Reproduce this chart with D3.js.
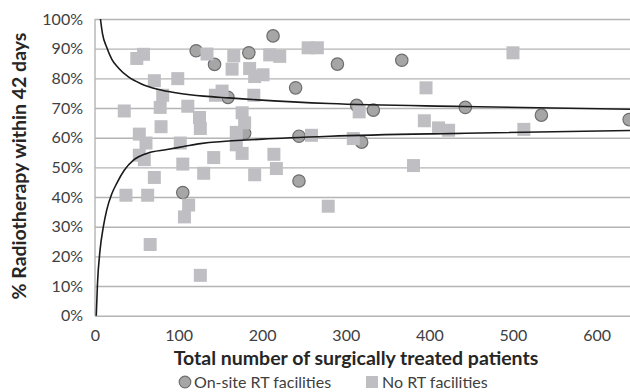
<!DOCTYPE html>
<html>
<head>
<meta charset="utf-8">
<script src="https://cdn.jsdelivr.net/npm/d3@7"></script>
<style>
  body { margin: 0; background: #fff; }
  svg { display: block; font-family: Lato, "Open Sans", sans-serif; }
</style>
</head>
<body>
<svg id="chart" width="630" height="392"></svg>
<script>
// values: [patients, % RT within 42 days]
const onSite = [
  [121, 89.3], [143, 84.7], [105, 41.5], [159, 73.6], [179, 61.5], [184, 88.6],
  [213, 94.3], [240, 76.8], [244, 60.5], [244, 45.4], [290, 84.8], [313, 70.9],
  [319, 58.5], [333, 69.3], [367, 86.1], [443, 70.2], [534, 67.6], [639, 66.1]
];
const noRt = [
  [35, 69.0], [37, 40.6], [50, 86.7], [58, 88.1], [53, 61.2], [61, 58.2],
  [53, 54.1], [59, 52.6], [63, 40.6], [66, 24.0], [71, 79.2], [71, 46.6],
  [81, 74.3], [78, 70.2], [79, 63.7], [99, 79.9], [102, 58.2], [105, 51.1],
  [107, 33.3], [112, 37.3], [111, 70.6], [125, 66.8], [126, 63.1], [126, 13.6],
  [130, 48.0], [134, 88.2], [142, 53.3], [144, 74.3], [152, 75.7], [164, 83.1],
  [166, 87.6], [169, 61.8], [169, 57.6], [176, 68.4], [179, 65.0], [176, 54.7],
  [185, 83.3], [191, 80.6], [190, 74.3], [191, 47.5], [201, 81.2], [209, 87.9],
  [221, 87.4], [214, 54.4], [217, 49.6], [255, 90.3], [266, 90.3], [259, 60.8],
  [279, 36.9], [309, 59.7], [316, 68.7], [381, 50.6], [396, 76.8], [394, 65.7],
  [411, 63.3], [423, 62.5], [500, 88.6], [513, 62.8]
];
// funnel limits
const upperLimit = [
  [6.5, 100], [9, 95], [14, 90.5], [20, 86.5], [28, 83.5], [40, 80.5], [55, 78.2],
  [75, 76.3], [100, 75], [130, 74], [160, 73.4], [280, 71.5], [440, 70.5], [640, 69.6]
];
const lowerLimit = [
  [1.5, 0], [3, 11], [6, 22], [10, 30], [14, 35.6], [20, 41], [26, 44.6], [35, 49],
  [46, 52.4], [62, 54.7], [86, 56], [106, 57], [126, 58], [200, 59.5], [281, 60.5],
  [443, 61.5], [640, 62.4]
];
const xTicks = [0, 100, 200, 300, 400, 500, 600];
const yTicks = [0, 10, 20, 30, 40, 50, 60, 70, 80, 90, 100];

const svg = d3.select('#chart');
const margin = {top: 19, left: 95, bottom: 76.3};
const width = 630 - margin.left;
const height = 392 - margin.top - margin.bottom;

const x = d3.scaleLinear().domain([0, 640]).range([0, width]);
const y = d3.scaleLinear().domain([0, 100]).range([height, 0]);

const g = svg.append('g')
  .attr('transform', 'translate(' + margin.left + ',' + margin.top + ')');

// gridlines
g.append('g')
  .call(d3.axisLeft(y).tickValues(yTicks).tickSize(-width).tickFormat(''))
  .call(s => s.select('.domain').remove())
  .selectAll('line')
  .attr('stroke', '#b4b4b4')
  .attr('stroke-width', 1.4);

g.append('line')
  .attr('x1', 0).attr('x2', 0).attr('y1', 0).attr('y2', height)
  .attr('stroke', '#b4b4b4').attr('stroke-width', 1.4);

// y labels
g.append('g')
  .call(d3.axisLeft(y).tickValues(yTicks).tickSize(0).tickPadding(12)
    .tickFormat(d => d + '%'))
  .call(s => s.select('.domain').remove())
  .selectAll('text')
  .attr('font-size', 16)
  .attr('font-family', 'Lato')
  .attr('fill', '#404040');

// x labels
g.append('g')
  .attr('transform', 'translate(0,' + height + ')')
  .call(d3.axisBottom(x).tickValues(xTicks).tickSize(0).tickPadding(14))
  .call(s => s.select('.domain').remove())
  .selectAll('text')
  .attr('font-size', 16)
  .attr('font-family', 'Lato')
  .attr('fill', '#404040');

// points
g.selectAll('circle.site')
  .data(onSite)
  .enter().append('circle')
  .attr('class', 'site')
  .attr('cx', d => x(d[0]))
  .attr('cy', d => y(d[1]))
  .attr('r', 6.2)
  .attr('fill', '#a6a6a6')
  .attr('stroke', '#6e6e6e')
  .attr('stroke-width', 1.2);

g.selectAll('rect.nort')
  .data(noRt)
  .enter().append('rect')
  .attr('class', 'nort')
  .attr('x', d => x(d[0]) - 6.5)
  .attr('y', d => y(d[1]) - 6.5)
  .attr('width', 13)
  .attr('height', 13)
  .attr('fill', '#bfbfc3');

// funnel limits
const limitLine = d3.line()
  .x(d => x(d[0]))
  .y(d => y(d[1]))
  .curve(d3.curveMonotoneX);

[upperLimit, lowerLimit].forEach(function(lim) {
  g.append('path')
    .datum(lim)
    .attr('fill', 'none')
    .attr('stroke', '#1a1a1a')
    .attr('stroke-width', 1.6)
    .attr('d', limitLine);
});

// axis titles
svg.append('text')
  .attr('transform', 'translate(19,166)rotate(-90)')
  .attr('text-anchor', 'middle')
  .attr('dy', '0.35em')
  .attr('font-size', 19.5)
  .attr('font-weight', 'bold')
  .attr('fill', '#262626')
  .text('% Radiotherapy within 42 days');

svg.append('text')
  .attr('x', 356)
  .attr('y', 358)
  .attr('text-anchor', 'middle')
  .attr('dy', '0.35em')
  .attr('font-size', 19.5)
  .attr('font-weight', 'bold')
  .attr('fill', '#262626')
  .text('Total number of surgically treated patients');

// legend
const legend = svg.append('g').attr('transform', 'translate(0,382)');
legend.append('circle')
  .attr('cx', 185).attr('cy', 0).attr('r', 5.8)
  .attr('fill', '#a6a6a6').attr('stroke', '#6e6e6e').attr('stroke-width', 1.2);
legend.append('text')
  .attr('x', 194).attr('y', 0).attr('dy', '0.35em')
  .attr('font-size', 16).attr('fill', '#404040')
  .text('On-site RT facilities');
legend.append('rect')
  .attr('x', 366).attr('y', -6).attr('width', 12).attr('height', 12)
  .attr('fill', '#bfbfc3');
legend.append('text')
  .attr('x', 382).attr('y', 0).attr('dy', '0.35em')
  .attr('font-size', 16).attr('fill', '#404040')
  .text('No RT facilities');
</script>
</body>
</html>
